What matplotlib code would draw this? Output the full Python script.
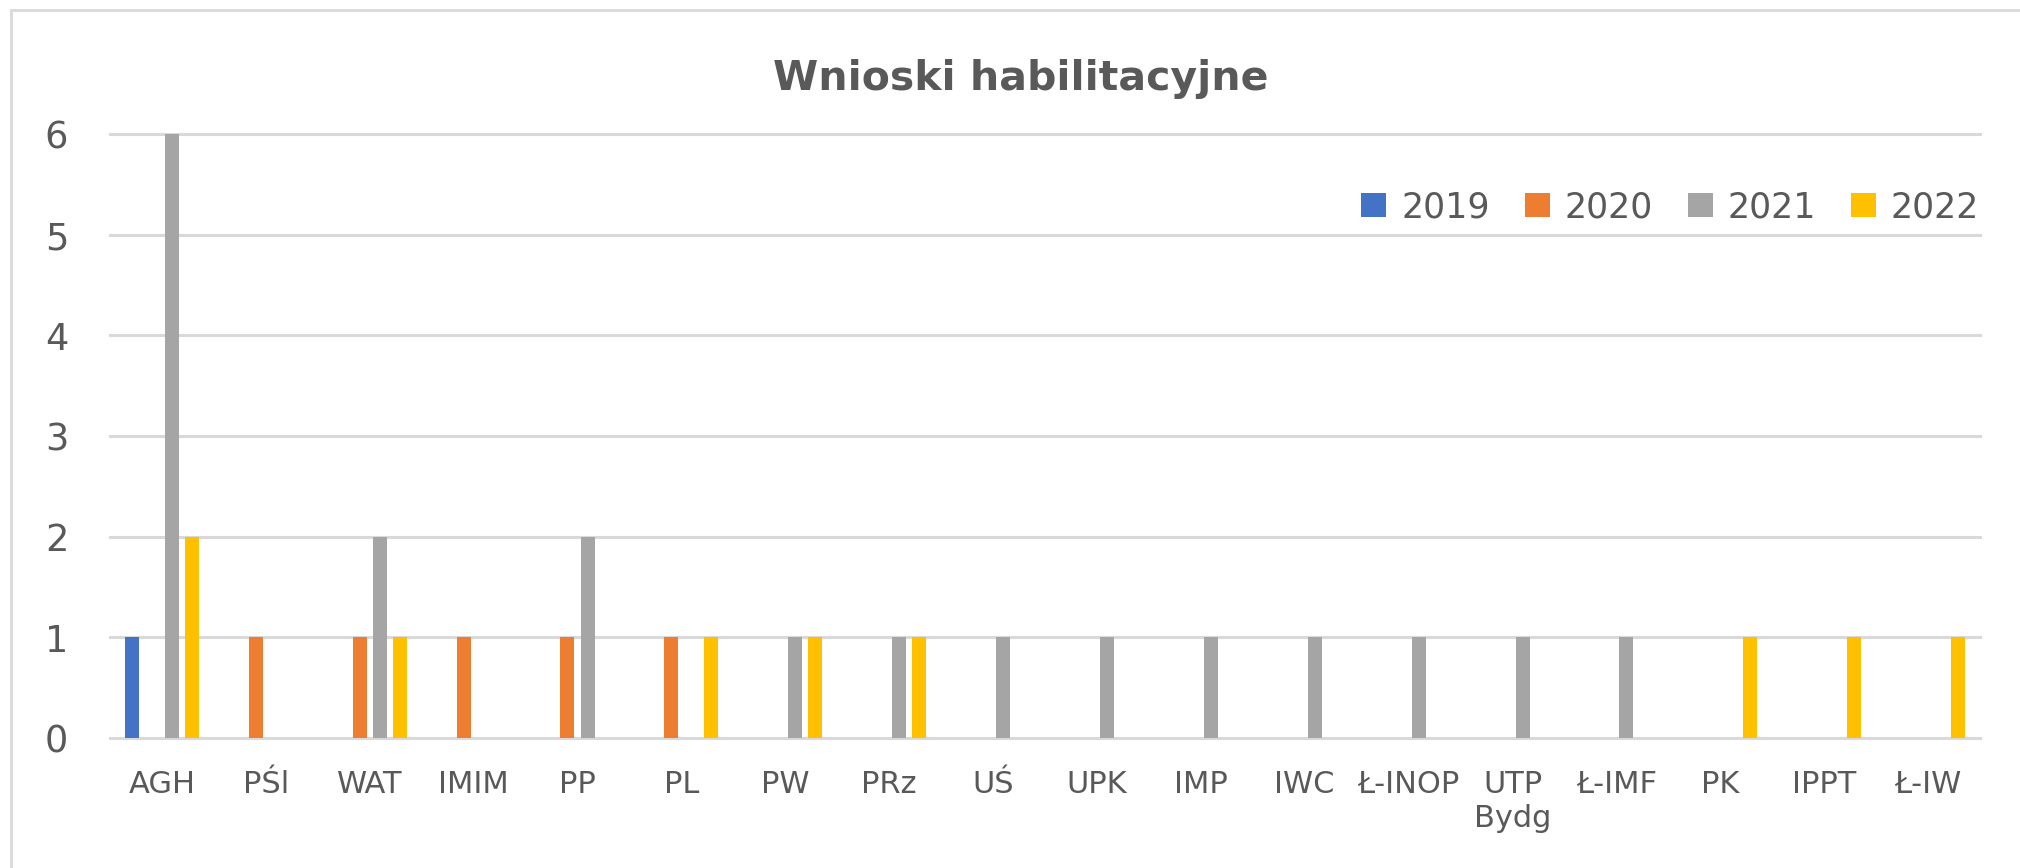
import matplotlib
matplotlib.use("Agg")
import matplotlib.pyplot as plt
import matplotlib.patches as mpatches
import numpy as np

# data
categories = ["AGH", "PŚl", "WAT", "IMIM", "PP", "PL", "PW", "PRz", "UŚ", "UPK",
              "IMP", "IWC", "Ł-INOP", "UTP\nBydg", "Ł-IMF", "PK", "IPPT", "Ł-IW"]
years = ["2019", "2020", "2021", "2022"]
v2019 = [1, 0, 0, 0, 0, 0, 0, 0, 0, 0, 0, 0, 0, 0, 0, 0, 0, 0]
v2020 = [0, 1, 1, 1, 1, 1, 0, 0, 0, 0, 0, 0, 0, 0, 0, 0, 0, 0]
v2021 = [6, 0, 2, 0, 2, 0, 1, 1, 1, 1, 1, 1, 1, 1, 1, 0, 0, 0]
v2022 = [2, 0, 1, 0, 0, 1, 1, 1, 0, 0, 0, 0, 0, 0, 0, 1, 1, 1]
colors = ["#4472C4", "#ED7D31", "#A5A5A5", "#FFC000"]

text_col = "#595959"
grid_col = "#D9D9D9"

fig = plt.figure(figsize=(20.2, 8.68), dpi=100)
ax = fig.add_axes([110 / 2020, 1 - 738 / 868, 1870 / 2020, (738 - 134) / 868])

x = np.arange(len(categories))
slot = 0.193
width = 0.135
series = [v2019, v2020, v2021, v2022]
for i, (vals, c, lab) in enumerate(zip(series, colors, years)):
    ax.bar(x + (i - 1.5) * slot, vals, width=width, color=c, label=lab, zorder=3)

ax.set_xlim(-0.5, len(categories) - 0.5)
ax.set_ylim(0, 6)
ax.set_yticks(range(0, 7))
ax.set_xticks(x)
ax.set_xticklabels(categories, fontsize=22, color=text_col)
ax.tick_params(axis="y", length=0, pad=30, labelsize=26.5, labelcolor=text_col)
ax.tick_params(axis="x", length=0, pad=23)

ax.grid(axis="y", color=grid_col, linewidth=2.2, zorder=0)
ax.grid(axis="x", visible=False)
for ln in ax.get_ygridlines():
    ln.set_clip_on(False)
for s in ["top", "right", "left", "bottom"]:
    ax.spines[s].set_visible(False)

fig.text(1021 / 2020, 1 - 90 / 868, "Wnioski habilitacyjne", ha="center", va="baseline",
         fontsize=29.5, fontweight="bold", color=text_col)

fig.legend(loc="center right", bbox_to_anchor=(1979 / 2020, 1 - 207 / 868), ncol=4,
           frameon=False, fontsize=25, labelcolor=text_col, borderpad=0, borderaxespad=0,
           handlelength=0.72, handleheight=0.7, handletextpad=0.43, columnspacing=1.0)

# outer chart border (only left and top visible in the crop)
border = mpatches.Rectangle((11 / 2020, -0.1), 1.2, 1.1 - 10 / 868, transform=fig.transFigure,
                            fill=False, edgecolor=grid_col, linewidth=2, clip_on=False)
fig.patches.append(border)

fig.savefig("out.png", dpi=100, facecolor="white")
